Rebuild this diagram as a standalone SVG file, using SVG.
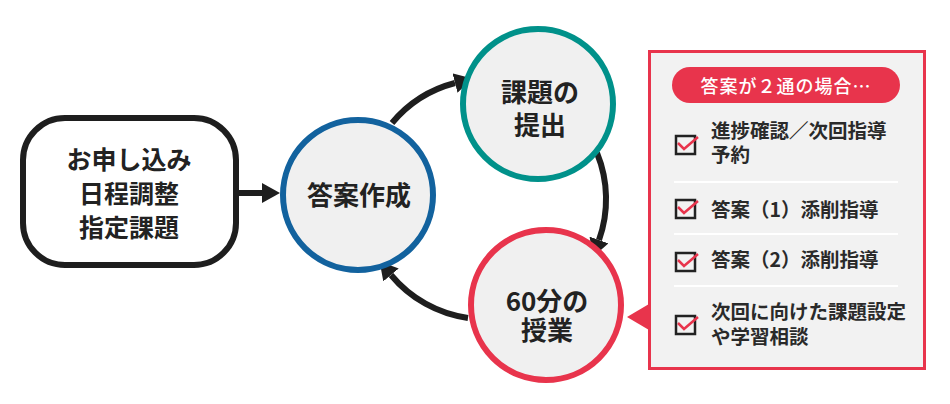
<svg xmlns="http://www.w3.org/2000/svg" width="950" height="404" viewBox="0 0 950 404">
<defs>
<style>
.t{font-family:"Noto Sans CJK JP","Noto Sans",sans-serif;fill:#222;text-anchor:middle;font-weight:700}
.big{font-size:25px}
.c26{font-size:26px}
.item{font-family:"Noto Sans CJK JP","Noto Sans",sans-serif;fill:#2a2a2a;font-size:19.5px;font-weight:700}
.circ{fill:#f0f0f0;stroke-width:6}
.conn{fill:none;stroke:#1e1e1e;stroke-width:6}
.cb{fill:none;stroke:#222;stroke-width:2.5}
.ck{fill:none;stroke:#e8344c;stroke-width:2.5;stroke-linejoin:miter}
.sep{stroke:#ffffff;stroke-width:2}
</style>
<marker id="ah" viewBox="0 0 18 20" refX="0" refY="10" markerWidth="18" markerHeight="20" markerUnits="userSpaceOnUse" orient="auto">
<path d="M0,0 L18,10 L0,20 z" fill="#1e1e1e"/>
</marker>
</defs>
<rect width="950" height="404" fill="#ffffff"/>

<g id="connectors">
<path class="conn" d="M239,193 L262,193" marker-end="url(#ah)"/>
<path class="conn" d="M392,123 A122,122 0 0,1 455,83" marker-end="url(#ah)"/>
<path class="conn" d="M597,153 A122,122 0 0,1 599,240" marker-end="url(#ah)"/>
<path class="conn" d="M468,318 A122,122 0 0,1 391,275" marker-end="url(#ah)"/>
</g>

<g id="node-start">
<rect x="23" y="118" width="213" height="147" rx="42" ry="42" fill="#ffffff" stroke="#1e1e1e" stroke-width="6"/>
<text class="t big" x="129" y="169">お申し込み</text>
<text class="t big" x="129" y="203">日程調整</text>
<text class="t big" x="129" y="237">指定課題</text>
</g>

<g id="node-answer">
<circle class="circ" cx="358" cy="195" r="75" stroke="#12629e"/>
<text class="t c26" x="359" y="205">答案作成</text>
</g>

<g id="node-submit">
<circle class="circ" cx="538" cy="104" r="75" stroke="#00918a"/>
<text class="t c26" x="540" y="102">課題の</text>
<text class="t c26" x="540" y="135">提出</text>
</g>

<g id="node-lesson">
<circle class="circ" cx="546" cy="305" r="75" stroke="#e8344c"/>
<text class="t c26" x="547" y="311">60分の</text>
<text class="t c26" x="547" y="340">授業</text>
</g>

<g id="node-panel">
<path d="M627,317 L649,304 L649,330 z" fill="#e8344c"/>
<rect x="649.5" y="51.5" width="275" height="317" fill="#f2f2f2" stroke="#e8344c" stroke-width="3"/>
<rect x="672" y="67" width="228" height="36" rx="18" ry="18" fill="#e8344c"/>
<text x="786" y="93" style="font-family:'Noto Sans CJK JP','Noto Sans',sans-serif;font-size:18px;font-weight:500;fill:#ffffff;text-anchor:middle;letter-spacing:1px">答案が２通の場合…</text>

<line class="sep" x1="674" y1="182" x2="898" y2="182"/>
<line class="sep" x1="674" y1="234" x2="898" y2="234"/>
<line class="sep" x1="674" y1="286" x2="898" y2="286"/>

<rect class="cb" x="676" y="136" width="19" height="18"/>
<path class="ck" d="M678,143 L684,149 L698,137"/>
<text class="item" x="711" y="138">進捗確認／次回指導</text>
<text class="item" x="711" y="162">予約</text>

<rect class="cb" x="676" y="200" width="19" height="18"/>
<path class="ck" d="M678,207 L684,213 L698,201"/>
<text class="item" x="711" y="217">答案（1）添削指導</text>

<rect class="cb" x="676" y="253" width="19" height="18"/>
<path class="ck" d="M678,260 L684,266 L698,254"/>
<text class="item" x="711" y="267">答案（2）添削指導</text>

<rect class="cb" x="676" y="316" width="19" height="18"/>
<path class="ck" d="M678,323 L684,329 L698,317"/>
<text class="item" x="711" y="319">次回に向けた課題設定</text>
<text class="item" x="711" y="344">や学習相談</text>
</g>
</svg>
